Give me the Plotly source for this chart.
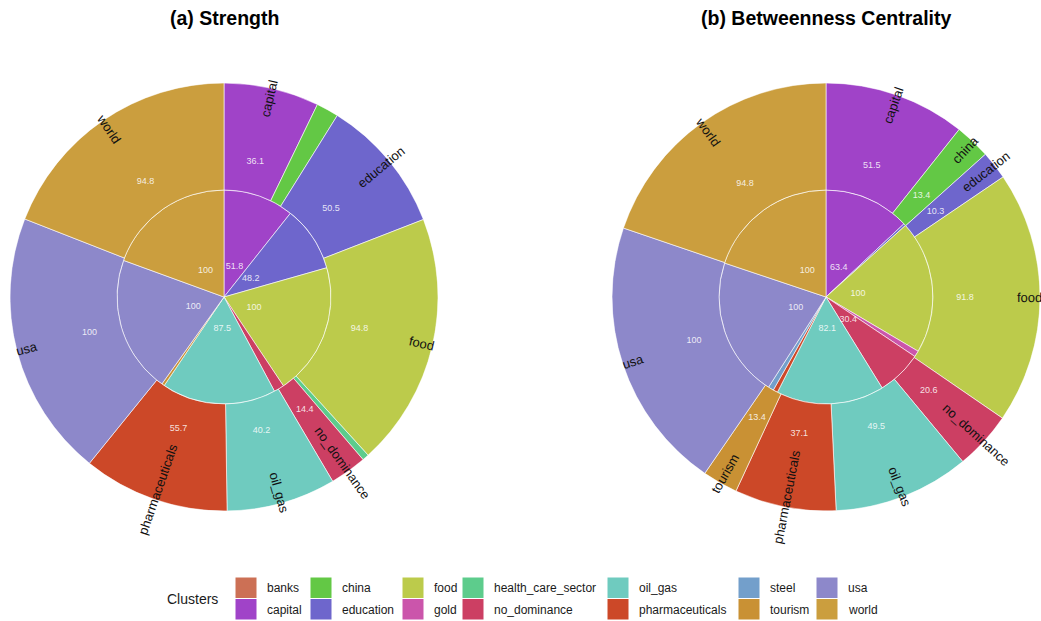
import numpy as np
import plotly.graph_objects as go

W, H = 1041, 621

# ---------------- data ----------------
clusters = ["banks", "capital", "china", "education", "food", "gold",
            "health_care_sector", "no_dominance", "oil_gas", "pharmaceuticals",
            "steel", "tourism", "usa", "world"]
cluster_colors = ["#CC7055", "#A043C8", "#63C845", "#6E66CC", "#BCCB4B", "#CB55AB",
                  "#5DCC8C", "#CC3F63", "#6FCBBF", "#CC4828",
                  "#739FCB", "#C99134", "#8D88CA", "#CB9E3E"]

# (a) Strength - inner ring
a_inner_cluster = ["capital", "education", "food", "no_dominance", "oil_gas", "tourism", "usa", "world"]
a_inner_share = [10.67, 9.92, 20.03, 1.56, 17.28, 0.42, 20.69, 19.44]   # % of circle
a_inner_value = [51.8, 48.2, 100, 6.2, 87.5, 2.0, 100, 100]
# (a) Strength - outer ring
a_outer_cluster = ["capital", "china", "education", "food", "health_care_sector", "no_dominance",
                   "oil_gas", "pharmaceuticals", "usa", "world"]
a_outer_share = [7.19, 1.69, 10.22, 19.14, 0.50, 2.78, 8.25, 11.06, 20.11, 19.06]
a_outer_value = [36.1, 7.5, 50.5, 94.8, 1.9, 14.4, 40.2, 55.7, 100, 94.8]

# (b) Betweenness Centrality - inner ring
b_inner_cluster = ["capital", "education", "food", "gold", "no_dominance", "oil_gas",
                   "pharmaceuticals", "steel", "usa", "world"]
b_inner_share = [13.00, 0.33, 20.14, 0.92, 6.81, 16.31, 0.69, 0.83, 21.11, 19.86]
b_inner_value = [63.4, 2.1, 100, 3.5, 30.4, 82.1, 2.6, 3.2, 100, 100]
# (b) Betweenness Centrality - outer ring
b_outer_cluster = ["capital", "china", "education", "food", "no_dominance", "oil_gas",
                   "pharmaceuticals", "tourism", "usa", "world"]
b_outer_share = [10.69, 2.69, 2.14, 19.06, 4.39, 10.28, 7.67, 2.67, 20.64, 19.78]
b_outer_value = [51.5, 13.4, 10.3, 91.8, 20.6, 49.5, 37.1, 13.4, 100, 94.8]

titles = ["(a) Strength", "(b) Betweenness Centrality"]
legend_title = "Clusters"

# ---------------- layout constants ----------------
FONT = "Liberation Sans, Arial, sans-serif"
R = 214
centers = [(224, 297), (826, 297)]
LABEL_MIN = 10
color_of = dict(zip(clusters, cluster_colors))


def px2paper(px, py):
    return px / W, 1 - py / H


fig = go.Figure()
annotations = []
shapes = []

charts = [
    (a_inner_cluster, a_inner_share, a_inner_value, a_outer_cluster, a_outer_share, a_outer_value),
    (b_inner_cluster, b_inner_share, b_inner_value, b_outer_cluster, b_outer_share, b_outer_value),
]

for k, (ic, ish, iv, oc, osh, ov) in enumerate(charts):
    polar = "polar" if k == 0 else "polar2"
    cx, cy = centers[k]
    for ring, (cl, sh, val) in enumerate([(ic, ish, iv), (oc, osh, ov)]):
        sh = np.array(sh, dtype=float)
        span = sh / sh.sum() * 360.0
        end = np.cumsum(span)
        mid = end - span / 2
        base = 0 if ring == 0 else 1
        fig.add_trace(go.Barpolar(
            theta=mid, width=span, r=[1] * len(cl), base=[base] * len(cl),
            marker=dict(color=[color_of[c] for c in cl],
                        line=dict(color="rgba(255,255,255,0.75)", width=0.8)),
            customdata=np.stack([cl, val], axis=1),
            hovertemplate="%{customdata[0]}: %{customdata[1]}<extra></extra>",
            subplot=polar, showlegend=False,
        ))
        show = [v >= LABEL_MIN for v in val]
        fig.add_trace(go.Scatterpolar(
            theta=[m for m, s in zip(mid, show) if s],
            r=[base + 0.3] * sum(show),
            text=[f"{v:g}" for v, s in zip(val, show) if s],
            mode="text", textfont=dict(size=9, color="rgba(255,255,255,0.85)", family=FONT),
            subplot=polar, showlegend=False, hoverinfo="skip",
        ))
        if ring == 1:
            rr = 0.95 * R
            for c, m, s in zip(cl, mid, show):
                if not s:
                    continue
                a = np.deg2rad(m)
                px = cx + rr * np.sin(a)
                py = cy - rr * np.cos(a)
                ang = m - 90 if m < 180 else m - 270
                x, y = px2paper(px, py)
                annotations.append(dict(x=x, y=y, xref="paper", yref="paper", text=c,
                                        textangle=ang, showarrow=False,
                                        font=dict(size=13, color="#111111", family=FONT),
                                        xanchor="center", yanchor="middle"))
    tx, ty = px2paper(cx, 18)
    annotations.append(dict(x=tx, y=ty, xref="paper", yref="paper", text=f"<b>{titles[k]}</b>",
                            showarrow=False, font=dict(size=19.5, color="black", family=FONT),
                            xanchor="center", yanchor="middle"))


def polar_layout(k):
    cx, cy = centers[k]
    return dict(
        domain=dict(x=[(cx - R) / W, (cx + R) / W], y=[1 - (cy + R) / H, 1 - (cy - R) / H]),
        bgcolor="white", barmode="overlay",
        radialaxis=dict(range=[0, 2], visible=False, showgrid=False),
        angularaxis=dict(rotation=90, direction="clockwise", visible=False, showgrid=False),
    )


# ---------------- manual legend (2 rows, column-major) ----------------
col_x = [235, 310, 402, 462, 607, 738, 816]
row_y = [577, 598.5]
SW = 22
for i, (c, col) in enumerate(zip(clusters, cluster_colors)):
    ci, ri = divmod(i, 2)
    x0, y0 = col_x[ci], row_y[ri]
    shapes.append(dict(type="rect", xref="paper", yref="paper",
                       x0=x0 / W, x1=(x0 + SW) / W, y0=1 - (y0 + 21.5) / H, y1=1 - y0 / H,
                       fillcolor=col, line=dict(color="white", width=1)))
    tx, ty = px2paper(x0 + SW + 8, y0 + 11)
    annotations.append(dict(x=tx, y=ty, xref="paper", yref="paper", text=c, showarrow=False,
                            font=dict(size=12, color="#1A1A1A", family=FONT),
                            xanchor="left", yanchor="middle"))
lx, ly = px2paper(165, 599)
annotations.append(dict(x=lx, y=ly, xref="paper", yref="paper", text=legend_title, showarrow=False,
                        font=dict(size=14, color="#1A1A1A", family=FONT),
                        xanchor="left", yanchor="middle"))

fig.update_layout(
    width=W, height=H, margin=dict(l=0, r=0, t=0, b=0),
    paper_bgcolor="white", plot_bgcolor="white",
    polar=polar_layout(0), polar2=polar_layout(1),
    annotations=annotations, shapes=shapes, showlegend=False,
    font=dict(family=FONT),
)

fig.write_html(
    "out.html",
    config={"displayModeBar": False},
    post_script="document.body.style.margin='0';document.body.style.overflow='hidden';",
)
